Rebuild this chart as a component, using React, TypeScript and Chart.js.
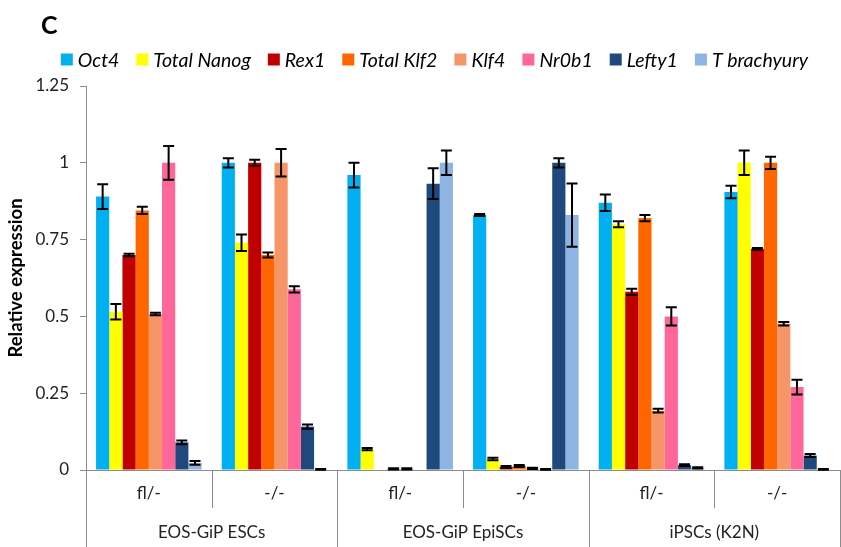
import React, { useEffect, useRef } from 'react';
import { Chart, registerables } from 'chart.js';

Chart.register(...registerables);

// ---- data ----
const categories = ['fl/-', '-/-', 'fl/-', '-/-', 'fl/-', '-/-'];
const groupLabels = ['EOS-GiP ESCs', 'EOS-GiP EpiSCs', 'iPSCs (K2N)'];
const seriesNames = ['Oct4', 'Total Nanog', 'Rex1', 'Total Klf2', 'Klf4', 'Nr0b1', 'Lefty1', 'T brachyury'];
const seriesColors = ['#00B0F0', '#FFFF00', '#C00000', '#FF6600', '#F59568', '#FF6699', '#1F497D', '#8DB4E2'];

const oct4 = [0.89, 1.0, 0.96, 0.83, 0.87, 0.905];
const oct4Err = [0.04, 0.015, 0.04, 0.003, 0.027, 0.02];
const nanog = [0.515, 0.74, 0.068, 0.036, 0.8, 1.0];
const nanogErr = [0.025, 0.027, 0.004, 0.004, 0.01, 0.04];
const rex1 = [0.7, 1.0, 0.0, 0.01, 0.58, 0.72];
const rex1Err = [0.004, 0.01, 0.0, 0.003, 0.01, 0.003];
const klf2 = [0.845, 0.7, 0.004, 0.013, 0.82, 1.0];
const klf2Err = [0.012, 0.008, 0.002, 0.003, 0.01, 0.02];
const klf4 = [0.508, 1.0, 0.004, 0.005, 0.193, 0.476];
const klf4Err = [0.004, 0.045, 0.002, 0.002, 0.006, 0.006];
const nr0b1 = [1.0, 0.588, 0.0, 0.002, 0.5, 0.27];
const nr0b1Err = [0.055, 0.01, 0.0, 0.001, 0.03, 0.024];
const lefty1 = [0.09, 0.141, 0.932, 1.0, 0.016, 0.047];
const lefty1Err = [0.006, 0.007, 0.05, 0.015, 0.003, 0.005];
const tbrachyury = [0.023, 0.002, 1.0, 0.83, 0.007, 0.002];
const tbrachyuryErr = [0.006, 0.001, 0.04, 0.103, 0.002, 0.001];

const yTicks = [0, 0.25, 0.5, 0.75, 1, 1.25];
const yTitle = 'Relative expression';
const panelLetter = 'C';

const FONT = 'Lato';
const AXIS_GRAY = '#8C8C8C';

export default function App() {
  const ref = useRef<HTMLCanvasElement>(null);

  useEffect(() => {
    document.body.style.margin = '0';
    const values = [oct4, nanog, rex1, klf2, klf4, nr0b1, lefty1, tbrachyury];
    const errors = [oct4Err, nanogErr, rex1Err, klf2Err, klf4Err, nr0b1Err, lefty1Err, tbrachyuryErr];

    const errorBarPlugin = {
      id: 'errorBars',
      afterDatasetsDraw(chart: any) {
        const ctx = chart.ctx;
        const ys = chart.scales.y;
        ctx.save();
        ctx.strokeStyle = '#000';
        ctx.lineWidth = 2;
        chart.data.datasets.forEach((ds: any, i: number) => {
          const meta = chart.getDatasetMeta(i);
          meta.data.forEach((el: any, j: number) => {
            const v = ds.data[j];
            const e = errors[i][j];
            if (!e) return;
            const x = el.x;
            const yt = ys.getPixelForValue(v + e);
            const yb = ys.getPixelForValue(Math.max(0, v - e));
            const hw = 5.5;
            ctx.beginPath();
            ctx.moveTo(x, yt);
            ctx.lineTo(x, yb);
            ctx.moveTo(x - hw, yt);
            ctx.lineTo(x + hw, yt);
            ctx.moveTo(x - hw, yb);
            ctx.lineTo(x + hw, yb);
            ctx.stroke();
          });
        });
        ctx.restore();
      },
    };

    const decorPlugin = {
      id: 'decor',
      afterDraw(chart: any) {
        const ctx = chart.ctx;
        const xs = chart.scales.x;
        const area = chart.chartArea;
        const H = chart.height;
        ctx.save();
        // panel letter
        ctx.fillStyle = '#000';
        ctx.font = `bold 25px ${FONT}`;
        ctx.textAlign = 'left';
        ctx.textBaseline = 'alphabetic';
        ctx.fillText(panelLetter, 41, 34);

        // legend
        ctx.font = `italic 19.5px ${FONT}`;
        const box = 12, gapBox = 5, gapItem = 17;
        const widths = seriesNames.map((n) => ctx.measureText(n).width);
        const total = widths.reduce((a, w) => a + box + gapBox + w, 0) + gapItem * (seriesNames.length - 1);
        let lx = 434.5 - total / 2;
        const ly = 59.5;
        ctx.textBaseline = 'middle';
        seriesNames.forEach((n, i) => {
          ctx.fillStyle = seriesColors[i];
          ctx.fillRect(lx, ly - box / 2, box, box);
          ctx.fillStyle = '#000';
          ctx.fillText(n, lx + box + gapBox, ly + 1);
          lx += box + gapBox + widths[i] + gapItem;
        });

        // x axis two-level labels and dividers
        const n = categories.length;
        const step = xs.getPixelForValue(1) - xs.getPixelForValue(0);
        const left = xs.getPixelForValue(0) - step / 2;
        ctx.strokeStyle = AXIS_GRAY;
        ctx.lineWidth = 1;
        for (let i = 0; i <= n; i++) {
          const x = Math.round(left + i * step) + 0.5;
          ctx.beginPath();
          ctx.moveTo(x, area.bottom);
          ctx.lineTo(x, i % 2 === 0 ? H : area.bottom + 38);
          ctx.stroke();
        }
        ctx.fillStyle = '#222';
        ctx.font = `17px ${FONT}`;
        ctx.textAlign = 'center';
        ctx.textBaseline = 'middle';
        categories.forEach((c, i) => {
          ctx.fillText(c, xs.getPixelForValue(i), area.bottom + 24);
        });
        groupLabels.forEach((g, k) => {
          const cx = left + (2 * k + 1) * step;
          ctx.fillText(g, cx, area.bottom + 63);
        });
        ctx.restore();
      },
    };

    const chart = new Chart(ref.current as HTMLCanvasElement, {
      type: 'bar',
      data: {
        labels: categories,
        datasets: seriesNames.map((name, i) => ({
          label: name,
          data: values[i],
          backgroundColor: seriesColors[i],
          borderWidth: 0,
          categoryPercentage: 0.84,
          barPercentage: 1,
        })),
      },
      options: {
        responsive: false,
        animation: false,
        layout: { padding: { top: 86, right: 1, left: 0, bottom: 0 } },
        plugins: { legend: { display: false }, tooltip: { enabled: false } },
        scales: {
          x: {
            grid: { display: false },
            ticks: { display: false },
            border: { display: true, color: AXIS_GRAY, width: 1 },
            afterFit: (s: any) => {
              s.height = 77;
            },
          },
          y: {
            min: 0,
            max: 1.25,
            afterBuildTicks: (s: any) => {
              s.ticks = yTicks.map((v) => ({ value: v }));
            },
            ticks: {
              callback: (v: any) => String(v),
              font: { family: FONT, size: 17 },
              color: '#222',
              padding: 11,
            },
            grid: { drawOnChartArea: false, drawTicks: true, tickLength: 6, color: AXIS_GRAY },
            border: { color: AXIS_GRAY },
            title: {
              display: true,
              text: yTitle,
              font: { family: FONT, size: 18.5, weight: 'bold' },
              color: '#000',
              padding: { top: 5, bottom: 0 },
            },
            afterFit: (s: any) => {
              s.width = 86;
            },
          },
        },
      } as any,
      plugins: [errorBarPlugin, decorPlugin],
    });
    return () => chart.destroy();
  }, []);

  return (
    <div style={{ width: 841, height: 547 }}>
      <canvas ref={ref} width={841} height={547} style={{ display: 'block' }} />
    </div>
  );
}
